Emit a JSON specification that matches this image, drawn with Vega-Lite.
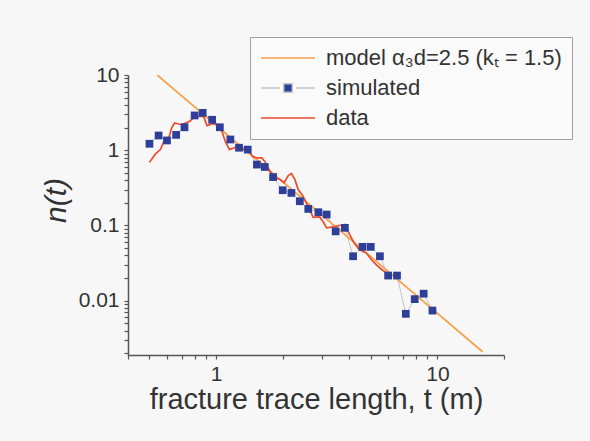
{
  "$schema": "https://vega.github.io/schema/vega-lite/v6.json",
  "width": 376,
  "height": 280,
  "autosize": "none",
  "padding": {"left": 128, "top": 75, "right": 86, "bottom": 86},
  "background": "#f7f7f7",
  "config": {
    "view": {"stroke": null},
    "font": "Liberation Sans",
    "axis": {
      "domainColor": "#555555",
      "domainWidth": 1.5,
      "tickColor": "#555555",
      "tickWidth": 1.2,
      "tickSize": 4,
      "grid": false,
      "labelFont": "Liberation Sans",
      "labelFontSize": 21,
      "labelColor": "#333333",
      "labelOverlap": false,
      "titleFont": "Liberation Sans",
      "titleColor": "#333333",
      "titleFontWeight": "normal"
    }
  },
  "data": {
    "values": [
      {"series": "model α₃d=2.5 (kₜ = 1.5)", "t": 0.542, "n": 10},
      {"series": "model α₃d=2.5 (kₜ = 1.5)", "t": 16.0, "n": 0.0021},

      {"series": "simulated", "t": 0.50, "n": 1.22},
      {"series": "simulated", "t": 0.55, "n": 1.57},
      {"series": "simulated", "t": 0.60, "n": 1.35},
      {"series": "simulated", "t": 0.66, "n": 1.60},
      {"series": "simulated", "t": 0.72, "n": 2.02},
      {"series": "simulated", "t": 0.80, "n": 2.9},
      {"series": "simulated", "t": 0.87, "n": 3.14},
      {"series": "simulated", "t": 0.96, "n": 2.54},
      {"series": "simulated", "t": 1.04, "n": 2.02},
      {"series": "simulated", "t": 1.16, "n": 1.39},
      {"series": "simulated", "t": 1.27, "n": 1.08},
      {"series": "simulated", "t": 1.39, "n": 1.02},
      {"series": "simulated", "t": 1.53, "n": 0.645},
      {"series": "simulated", "t": 1.66, "n": 0.60},
      {"series": "simulated", "t": 1.81, "n": 0.44},
      {"series": "simulated", "t": 2.00, "n": 0.294},
      {"series": "simulated", "t": 2.19, "n": 0.271},
      {"series": "simulated", "t": 2.39, "n": 0.21},
      {"series": "simulated", "t": 2.61, "n": 0.166},
      {"series": "simulated", "t": 2.90, "n": 0.15},
      {"series": "simulated", "t": 3.16, "n": 0.14},
      {"series": "simulated", "t": 3.47, "n": 0.0836},
      {"series": "simulated", "t": 3.82, "n": 0.093},
      {"series": "simulated", "t": 4.16, "n": 0.039},
      {"series": "simulated", "t": 4.59, "n": 0.052},
      {"series": "simulated", "t": 5.00, "n": 0.052},
      {"series": "simulated", "t": 5.50, "n": 0.039},
      {"series": "simulated", "t": 5.99, "n": 0.0216},
      {"series": "simulated", "t": 6.57, "n": 0.0216},
      {"series": "simulated", "t": 7.20, "n": 0.0067},
      {"series": "simulated", "t": 7.90, "n": 0.0105},
      {"series": "simulated", "t": 8.67, "n": 0.0124},
      {"series": "simulated", "t": 9.50, "n": 0.0074},

      {"series": "data", "t": 0.50, "n": 0.69},
      {"series": "data", "t": 0.53, "n": 0.88},
      {"series": "data", "t": 0.56, "n": 1.02},
      {"series": "data", "t": 0.58, "n": 1.28},
      {"series": "data", "t": 0.61, "n": 1.42},
      {"series": "data", "t": 0.63, "n": 1.99},
      {"series": "data", "t": 0.65, "n": 2.3},
      {"series": "data", "t": 0.69, "n": 2.2},
      {"series": "data", "t": 0.72, "n": 2.26},
      {"series": "data", "t": 0.76, "n": 2.43},
      {"series": "data", "t": 0.80, "n": 2.78},
      {"series": "data", "t": 0.85, "n": 2.83},
      {"series": "data", "t": 0.88, "n": 2.78},
      {"series": "data", "t": 0.91, "n": 2.13},
      {"series": "data", "t": 0.96, "n": 2.26},
      {"series": "data", "t": 1.01, "n": 2.2},
      {"series": "data", "t": 1.05, "n": 1.99},
      {"series": "data", "t": 1.10, "n": 1.32},
      {"series": "data", "t": 1.15, "n": 1.02},
      {"series": "data", "t": 1.21, "n": 1.08},
      {"series": "data", "t": 1.26, "n": 1.13},
      {"series": "data", "t": 1.33, "n": 1.02},
      {"series": "data", "t": 1.40, "n": 1.02},
      {"series": "data", "t": 1.46, "n": 0.83},
      {"series": "data", "t": 1.53, "n": 0.79},
      {"series": "data", "t": 1.61, "n": 0.79},
      {"series": "data", "t": 1.66, "n": 0.71},
      {"series": "data", "t": 1.75, "n": 0.53},
      {"series": "data", "t": 1.85, "n": 0.43},
      {"series": "data", "t": 1.94, "n": 0.41},
      {"series": "data", "t": 2.03, "n": 0.37},
      {"series": "data", "t": 2.12, "n": 0.46},
      {"series": "data", "t": 2.19, "n": 0.49},
      {"series": "data", "t": 2.27, "n": 0.41},
      {"series": "data", "t": 2.35, "n": 0.30},
      {"series": "data", "t": 2.47, "n": 0.245},
      {"series": "data", "t": 2.58, "n": 0.19},
      {"series": "data", "t": 2.75, "n": 0.128},
      {"series": "data", "t": 2.94, "n": 0.13},
      {"series": "data", "t": 3.07, "n": 0.108},
      {"series": "data", "t": 3.16, "n": 0.093},
      {"series": "data", "t": 3.38, "n": 0.096},
      {"series": "data", "t": 3.60, "n": 0.10},
      {"series": "data", "t": 3.82, "n": 0.103},
      {"series": "data", "t": 4.02, "n": 0.075},
      {"series": "data", "t": 4.19, "n": 0.060},
      {"series": "data", "t": 4.43, "n": 0.048},
      {"series": "data", "t": 4.78, "n": 0.043},
      {"series": "data", "t": 5.04, "n": 0.035},
      {"series": "data", "t": 5.30, "n": 0.030},
      {"series": "data", "t": 5.60, "n": 0.026},
      {"series": "data", "t": 5.83, "n": 0.024}
    ]
  },
  "encoding": {
    "x": {
      "field": "t",
      "type": "quantitative",
      "scale": {"type": "log", "domain": [0.4, 20], "nice": false},
      "axis": {
        "title": "fracture trace length, t (m)",
        "titleFontSize": 29,
        "titlePadding": 1,
        "labelPadding": 4,
        "values": [0.4, 0.5, 0.6, 0.7, 0.8, 0.9, 1, 2, 3, 4, 5, 6, 7, 8, 9, 10, 20],
        "labelExpr": "datum.value == 1 ? '1' : datum.value == 10 ? '10' : ''"
      }
    },
    "y": {
      "field": "n",
      "type": "quantitative",
      "scale": {"type": "log", "domain": [0.0019, 10], "nice": false},
      "axis": {
        "title": "n(t)",
        "titleFontSize": 30,
        "titleFontStyle": "italic",
        "titlePadding": 7,
        "titleY": 125,
        "labelPadding": 5,
        "values": [0.002, 0.003, 0.004, 0.005, 0.006, 0.007, 0.008, 0.009, 0.01, 0.02, 0.03, 0.04, 0.05, 0.06, 0.07, 0.08, 0.09, 0.1, 0.2, 0.3, 0.4, 0.5, 0.6, 0.7, 0.8, 0.9, 1, 2, 3, 4, 5, 6, 7, 8, 9, 10],
        "labelExpr": "datum.value == 0.01 ? '0.01' : datum.value == 0.1 ? '0.1' : datum.value == 1 ? '1' : datum.value == 10 ? '10' : ''"
      }
    }
  },
  "layer": [
    {
      "transform": [{"filter": "datum.series == 'simulated'"}],
      "mark": {"type": "line", "strokeWidth": 1},
      "encoding": {
        "stroke": {"field": "series", "type": "nominal"}
      }
    },
    {
      "transform": [{"filter": "datum.series != 'simulated'"}],
      "mark": {"type": "line", "strokeWidth": 1.7, "clip": true},
      "encoding": {
        "detail": {"field": "series"},
        "stroke": {
          "field": "series",
          "type": "nominal",
          "sort": null,
          "scale": {
            "domain": ["model α₃d=2.5 (kₜ = 1.5)", "simulated", "data"],
            "range": ["#f5a14c", "#c4c4c4", "#ee4a2c"]
          },
          "legend": {
            "orient": "none",
            "legendX": 122,
            "legendY": -38,
            "title": null,
            "padding": 10,
            "strokeColor": "#a0a0a0",
            "fillColor": "#fafafa",
            "labelFont": "Liberation Sans",
            "labelFontSize": 22,
            "labelColor": "#333333",
            "labelLimit": 400,
            "labelOffset": 10,
            "rowPadding": 8,
            "clipHeight": 22,
            "symbolSize": 2900,
            "symbolStrokeWidth": 1.5,
            "encode": {
              "symbols": {
                "update": {
                  "size": {"value": 2900},
                  "strokeWidth": {"value": 1.5},
                  "shape": {"signal": "datum.value === 'simulated' ? 'M-1,0H-0.3M0.3,0H1M-0.16,-0.16H0.16V0.16H-0.16Z' : 'stroke'"},
                  "fill": {"signal": "datum.value === 'simulated' ? '#2d3f99' : 'transparent'"},
                  "opacity": {"value": 1}
                }
              }
            }
          }
        }
      }
    },
    {
      "transform": [{"filter": "datum.series == 'simulated'"}],
      "mark": {"type": "point", "shape": "square", "filled": true, "size": 60, "opacity": 1, "color": "#2d3f99"},
      "encoding": {}
    }
  ]
}
